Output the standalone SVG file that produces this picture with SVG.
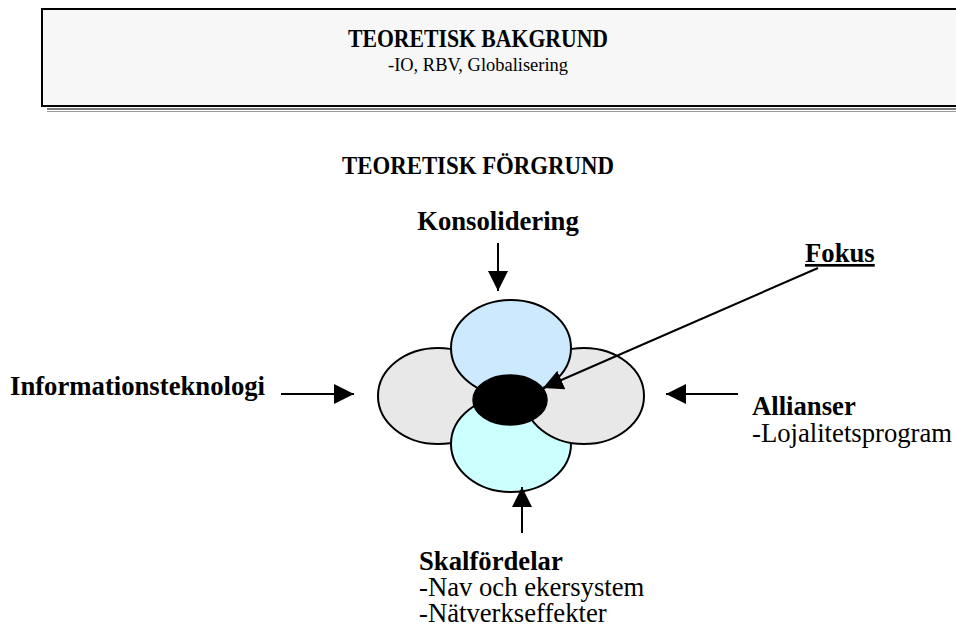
<svg xmlns="http://www.w3.org/2000/svg" width="956" height="632" viewBox="0 0 956 632">
  <style>
    text { font-family: "Liberation Serif", "Times New Roman", serif; fill: #000; }
    .b { font-weight: bold; }
    .lbl { font-size: 26.7px; }
    .head { font-size: 26px; font-weight: bold; }
    .sub { font-size: 19px; }
    .conn line { stroke: #000; stroke-width: 2; marker-end: url(#arrow); }
    .petal { stroke: #000; stroke-width: 2; }
  </style>
  <defs>
    <marker id="arrow" markerUnits="userSpaceOnUse" markerWidth="20" markerHeight="20" refX="20" refY="10" orient="auto">
      <path d="M0,0 L20,10 L0,20 Z" fill="#000"/>
    </marker>
  </defs>

  <rect width="956" height="632" fill="#fff"/>

  <!-- Background theory banner with drop shadow -->
  <g id="banner">
    <rect x="47" y="108" width="920" height="2" fill="#7a7a7a"/>
    <line x1="47" y1="111.5" x2="967" y2="111.5" stroke="#9a9a9a" stroke-width="1"/>
    <rect x="42" y="9" width="930" height="97" fill="#f7f7f7" stroke="#000" stroke-width="2"/>
    <text class="head" x="478" y="47" text-anchor="middle" textLength="260" lengthAdjust="spacingAndGlyphs">TEORETISK BAKGRUND</text>
    <text class="sub" x="478" y="71" text-anchor="middle" textLength="180" lengthAdjust="spacingAndGlyphs">-IO, RBV, Globalisering</text>
  </g>

  <g id="title">
    <text class="head" x="478" y="174" text-anchor="middle" textLength="272" lengthAdjust="spacingAndGlyphs">TEORETISK FÖRGRUND</text>
  </g>

  <!-- Four overlapping petals around the focus core -->
  <g id="petal-left"><ellipse class="petal" cx="438" cy="396" rx="60" ry="48" fill="#e8e8e8"/></g>
  <g id="petal-bottom"><ellipse class="petal" cx="511" cy="444" rx="60" ry="48" fill="#ccffff"/></g>
  <g id="petal-right"><ellipse class="petal" cx="584" cy="396" rx="60" ry="48" fill="#e8e8e8"/></g>
  <g id="petal-top"><ellipse class="petal" cx="511" cy="348" rx="60" ry="48" fill="#cce9fd"/></g>
  <g id="core"><ellipse cx="510" cy="400" rx="37" ry="25" fill="#000" stroke="#000" stroke-width="1.5"/></g>

  <!-- Connectors -->
  <g class="conn" id="connectors">
    <line x1="498" y1="243" x2="498" y2="291"/>
    <line x1="281" y1="394" x2="354" y2="394"/>
    <line x1="738" y1="394" x2="666" y2="394"/>
    <line x1="522" y1="533" x2="522" y2="487"/>
    <line x1="818" y1="268" x2="543" y2="388"/>
  </g>

  <g id="konsolidering">
    <text class="lbl b" x="498" y="230" text-anchor="middle">Konsolidering</text>
  </g>
  <g id="fokus">
    <text class="lbl b" x="805" y="262" text-decoration="underline">Fokus</text>
  </g>
  <g id="informationsteknologi">
    <text class="lbl b" x="10" y="395">Informationsteknologi</text>
  </g>
  <g id="allianser">
    <text class="lbl b" x="752" y="415">Allianser</text>
    <text class="lbl" x="752" y="442">-Lojalitetsprogram</text>
  </g>
  <g id="skalfordelar">
    <text class="lbl b" x="419" y="570">Skalfördelar</text>
    <text class="lbl" x="419" y="596">-Nav och ekersystem</text>
    <text class="lbl" x="419" y="622">-Nätverkseffekter</text>
  </g>
</svg>
